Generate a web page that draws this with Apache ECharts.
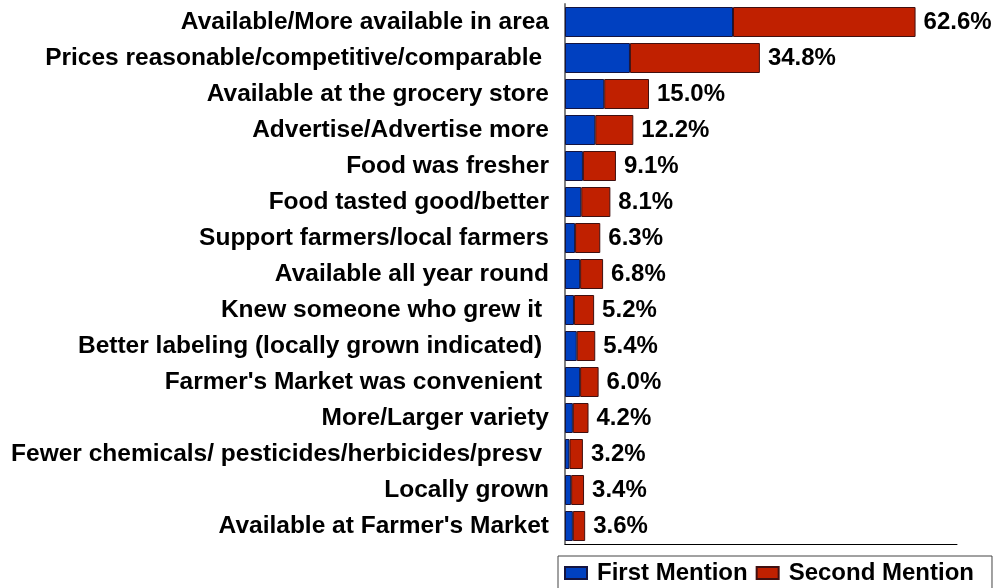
<!DOCTYPE html>
<html>
<head>
<meta charset="utf-8">
<script src="https://cdn.jsdelivr.net/npm/echarts@6/dist/echarts.min.js"></script>
<style>
	html, body { margin: 0; padding: 0; background: #fff; }
	#chart { width: 996px; height: 588px; }
</style>
</head>
<body>
<div id="chart"></div>
<script>
// reasons, top to bottom (trailing spaces kept as in the original)
var categories = [
	'Available/More available in area',
	'Prices reasonable/competitive/comparable ',
	'Available at the grocery store',
	'Advertise/Advertise more',
	'Food was fresher',
	'Food tasted good/better',
	'Support farmers/local farmers',
	'Available all year round',
	'Knew someone who grew it ',
	'Better labeling (locally grown indicated) ',
	"Farmer's Market was convenient ",
	'More/Larger variety',
	'Fewer chemicals/ pesticides/herbicides/presv ',
	'Locally grown',
	"Available at Farmer's Market"
]
var firstMention = [30.0, 11.6, 7.0, 5.4, 3.2, 2.9, 1.8, 2.7, 1.6, 2.1, 2.7, 1.4, 0.8, 1.1, 1.4]
var secondMention = [32.6, 23.2, 8.0, 6.8, 5.9, 5.2, 4.5, 4.1, 3.6, 3.3, 3.3, 2.8, 2.4, 2.3, 2.2]
var totals = ['62.6', '34.8', '15.0', '12.2', '9.1', '8.1', '6.3', '6.8', '5.2', '5.4', '6.0', '4.2', '3.2', '3.4', '3.6']

var font = 'Arial, "Liberation Sans", sans-serif'

var chart = echarts.init(document.getElementById('chart'))
var option = {
	animation: false,
	backgroundColor: '#fff',
	grid: {
		left: 565,
		right: 39,
		top: 4,
		bottom: 44
	},
	legend: {
		data: ['First Mention', 'Second Mention'],
		left: 558,
		top: 556,
		padding: [5, 18, 10, 6],
		borderColor: '#444',
		borderWidth: 1,
		itemWidth: 22,
		itemHeight: 12,
		itemGap: 8,
		icon: 'rect',
		textStyle: {
			color: '#000',
			fontSize: 24,
			fontWeight: 'bold',
			fontFamily: font,
			padding: [0, 0, 0, 5]
		}
	},
	xAxis: {
		type: 'value',
		min: 0,
		max: 70,
		axisLine: { show: true, lineStyle: { color: '#000', width: 1 } },
		axisTick: { show: false },
		axisLabel: { show: false },
		splitLine: { show: false }
	},
	yAxis: {
		type: 'category',
		inverse: true,
		data: categories,
		axisLine: { show: true, lineStyle: { color: '#808080', width: 2 } },
		axisTick: { show: false },
		axisLabel: {
			margin: 16,
			color: '#000',
			fontSize: 24.5,
			fontWeight: 'bold',
			fontFamily: font,
			padding: [2, 0, 0, 0]
		}
	},
	series: [
		{
			name: 'First Mention',
			type: 'bar',
			stack: 'total',
			barWidth: 30,
			data: firstMention,
			itemStyle: {
				color: '#0040C0',
				borderColor: '#141440',
				borderWidth: 1
			}
		},
		{
			name: 'Second Mention',
			type: 'bar',
			stack: 'total',
			barWidth: 30,
			data: secondMention,
			itemStyle: {
				color: '#C02000',
				borderColor: '#401010',
				borderWidth: 1
			},
			label: {
				show: true,
				position: 'right',
				distance: 8,
				color: '#000',
				fontSize: 24,
				fontWeight: 'bold',
				fontFamily: font,
				formatter: function(p) {
					return totals[p.dataIndex] + '%'
				}
			}
		}
	]
}
chart.setOption(option)
</script>
</body>
</html>
